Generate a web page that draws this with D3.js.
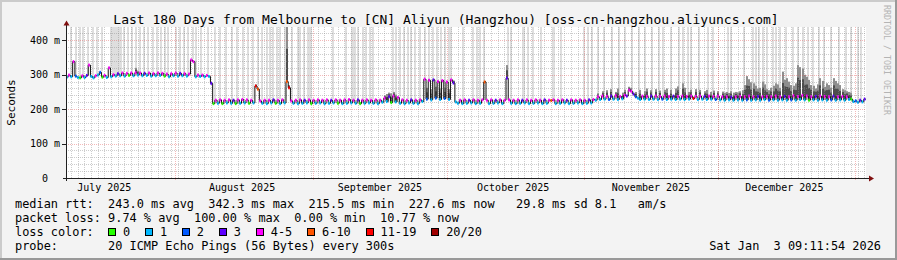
<!DOCTYPE html>
<html>
<head>
<meta charset="utf-8">
<script src="https://cdn.jsdelivr.net/npm/d3@7"></script>
<style>
  html, body { margin: 0; padding: 0; background: #f3f3f3; }
  svg { display: block; }
  text { font-family: "DejaVu Sans Mono", monospace; white-space: pre; }
</style>
</head>
<body>
<script>
// smokeping style graph, last 180 days (Melbourne local time)

var title = "Last 180 Days from Melbourne to [CN] Aliyun (Hangzhou) [oss-cn-hangzhou.aliyuncs.com]";
var startTime = Date.UTC(2025, 6, 7, 9, 11, 54);
var endTime = Date.UTC(2026, 0, 3, 9, 11, 54);

var yTicks = [0, 100, 200, 300, 400];
var yTickLabels = ["0  ", "100 m", "200 m", "300 m", "400 m"];

var monthLines = ["2025-08-01", "2025-09-01", "2025-10-01", "2025-11-01", "2025-12-01", "2026-01-01"];
var monthLabelAt = ["2025-07-16", "2025-08-16", "2025-09-16", "2025-10-16", "2025-11-16", "2025-12-16"];
var monthLabels = ["July 2025", "August 2025", "September 2025", "October 2025", "November 2025", "December 2025"];

// median rtt in ms, two samples per day
var medianRtt = [
  293,299, 294,338, 296,292, 291,297, 292,298, 328,295, 291,297, 299,307, 293,298, 292,320,
  294,300, 296,303, 297,305, 296,304, 298,305, 297,306, 299,305, 297,304, 298,305, 296,303,
  297,305, 298,304, 296,302, 294,303, 297,305, 296,304, 297,303, 296,302, 343,338, 294,299,
  295,299, 294,298, 295,275, 216,226, 217,227, 216,226, 218,227, 217,226, 216,227, 217,228,
  218,227, 217,226, 218,267, 258,224, 217,226, 216,226, 218,227, 217,226, 216,227, 218,280,
  262,224, 217,226, 216,227, 217,226, 218,227, 216,226, 217,227, 218,226, 216,227, 217,226,
  218,227, 217,226, 216,227, 217,228, 218,226, 217,227, 216,226, 217,227, 218,226, 217,227,
  216,226, 220,232, 222,236, 219,238, 221,234, 217,227, 216,226, 218,227, 217,226, 216,227,
  222,287, 229,284, 227,285, 232,280, 228,283, 231,279, 228,285, 276,221, 217,226, 216,227,
  217,226, 218,227, 216,226, 217,227, 279,226, 216,227, 217,226, 218,227, 216,226, 290,227,
  217,226, 216,227, 217,226, 218,227, 216,226, 217,227, 218,226, 216,227, 217,226, 225,227,
  216,226, 217,227, 218,226, 216,227, 217,226, 218,227, 216,226, 217,227, 218,228, 226,236,
  228,238, 229,237, 228,238, 229,239, 228,237, 230,240, 238,255, 252,244, 236,232, 228,238,
  229,237, 228,238, 229,238, 228,237, 229,238, 228,237, 229,238, 228,237, 229,238, 228,237,
  229,238, 231,237, 228,238, 229,237, 228,238, 229,237, 228,238, 227,236, 226,236, 227,235,
  226,236, 227,237, 226,236, 227,238, 226,236, 227,237, 226,236, 228,237, 226,236, 227,238,
  226,236, 227,237, 226,236, 227,239, 226,237, 228,240, 227,238, 226,236, 227,237, 226,238,
  227,237, 226,236, 227,238, 226,236, 227,237, 226,236, 228,229, 222,224, 220,226, 221,229
];

// loss bucket per sample (index into lossLabels)
var lossBucket = [
  1,4, 1,4, 2,1, 0,4, 1,3, 4,1, 1,4, 1,2, 0,4, 1,4,
  1,4, 1,3, 1,4, 1,4, 0,4, 1,4, 1,4, 1,3, 1,4, 1,4,
  1,4, 1,4, 0,4, 1,4, 1,4, 1,3, 1,4, 1,4, 4,4, 1,4,
  1,4, 1,4, 1,3, 0,4, 1,4, 0,4, 1,4, 1,3, 0,4, 1,4,
  1,4, 0,4, 1,6, 5,4, 1,4, 1,4, 1,3, 0,4, 1,4, 1,5,
  6,4, 1,4, 1,4, 1,3, 1,4, 0,4, 1,4, 1,4, 1,4, 1,3,
  1,4, 0,4, 1,4, 1,4, 1,4, 1,3, 0,4, 1,4, 1,4, 1,4,
  1,4, 1,4, 1,3, 0,4, 1,4, 1,4, 1,4, 1,3, 1,4, 1,4,
  1,4, 2,4, 1,3, 2,4, 1,4, 2,4, 1,4, 3,1, 1,4, 1,4,
  1,3, 1,4, 1,4, 1,4, 5,4, 1,4, 1,3, 1,4, 1,4, 3,4,
  1,4, 1,4, 1,3, 1,4, 1,4, 1,4, 1,4, 1,3, 1,4, 5,4,
  1,4, 1,4, 1,3, 1,4, 1,4, 1,4, 1,4, 1,3, 1,4, 1,4,
  1,4, 1,4, 2,3, 1,4, 1,4, 1,4, 3,4, 4,3, 2,1, 1,4,
  1,4, 1,3, 1,4, 1,4, 2,4, 1,4, 1,3, 1,4, 1,4, 1,4,
  1,4, 6,4, 1,4, 1,3, 1,4, 1,4, 2,4, 1,4, 1,4, 1,3,
  1,4, 1,4, 1,4, 2,4, 1,4, 1,3, 1,4, 1,4, 2,4, 1,4,
  1,4, 1,3, 1,4, 2,4, 1,4, 1,4, 1,4, 0,4, 1,3, 1,4,
  1,4, 1,4, 2,3, 1,4, 1,4, 1,4, 1,0, 1,2, 1,3, 1,3
];

var lossLabels = ["0", "1", "2", "3", "4-5", "6-10", "11-19", "20/20"];
var lossColors = ["#26ff00", "#00b8ff", "#0059ff", "#5e00ff", "#ff00ff", "#ff5500", "#ff0000", "#a00000"];

// smoke: [day since start, upper rtt in ms]
var smoke = [
  [15.5,320],[16.0,312],[42.5,272],[43.0,262],[49.5,440],[50.0,270],
  [71.5,240],[72.0,244],[72.5,248],[73.0,246],[73.5,250],[74.0,242],
  [80.5,288],[81.0,262],[81.5,287],[82.0,258],[82.5,286],[83.0,265],[83.5,283],[84.0,260],
  [84.5,284],[85.0,262],[85.5,282],[86.0,258],[86.5,286],[87.0,283],[94.0,282],[99.0,328],
  [119.5,246],[120.5,252],[121.5,255],[122.5,258],[123.5,250],[124,260],[125,248],
  [125.5,256],[126.5,265],[127,262],[128,250],[129,256],[130,252],[130.5,260],
  [131.5,255],[132.5,258],[133.5,254],[134.5,256],[135,260],[136,256],[137,260],
  [137.5,266],[138.5,275],[139,262],[140,250],[140.5,256],[141.5,258],[142.5,256],
  [143.5,252],[144,256],[145,250],[145.5,254],[146.5,252],[147.5,251],
  [148,248],[148.5,250],[149,247],[149.5,252],[150,248],[150.5,250],[151,249],
  [151.5,252],[152,255],[152.5,270],[153,296],[153.5,287],[154,278],[154.5,275],[155,268],
  [155.5,260],[156,262],[156.5,280],[157,272],[157.5,258],[158,255],[158.5,262],[159,268],
  [159.5,275],[160,272],[160.5,262],[161,309],[161.5,285],[162,290],[162.5,280],[163,270],
  [163.5,268],[164,275],[164.5,328],[165,322],[165.5,318],[166,300],[166.5,294],[167,285],
  [167.5,270],[168,268],[168.5,260],[169,272],[169.5,290],[170,282],[170.5,265],[171,275],
  [171.5,270],[172,262],[172.5,290],[173,282],[173.5,275],[174,270],[174.5,258],[175,255],
  [175.5,252],[176,250],[176.5,248]
];

// samples whose slowest ping went off the top of the graph (day since start)
var hazeDays = [
  0.9, 2.0, 3.0, 3.7, 4.7, 5.8, 6.8, 7.8, 9.9, 10.3, 10.6, 11.0, 11.4, 11.8, 12.2, 12.9,
  13.7, 14.6, 15.5, 16.4, 17.4, 18.3, 19.3, 20.3, 21.2, 22.1, 22.8, 24.5, 25.4, 26.3, 27.3,
  28.4, 29.0, 30.2, 31.7, 33.3, 34.5, 35.8, 37.1, 38.3, 39.5, 40.7, 41.8, 42.9, 43.9, 45.0,
  45.7, 46.4, 47.2, 47.9, 49.1, 50.6, 51.9, 52.5, 53.3, 54.2, 54.5, 54.8, 59.8, 62.8, 64.1,
  64.5, 64.9, 65.4, 66.5, 67.3, 68.2, 68.9, 73.3, 74.0, 74.9, 75.8, 76.7, 77.4, 78.3, 79.4,
  80.6, 81.5, 82.4, 83.3, 84.2, 85.1, 85.9, 86.5, 89.0, 91.3, 92.3, 93.0, 93.9, 99.2, 99.9,
  102.5, 102.9, 103.7, 104.9, 106.7, 109.3, 109.6, 111.2, 116.4, 117.3, 118.1, 119.4, 120.9,
  122.6, 124.1, 125.6, 127.1, 128.6, 130.1, 131.6, 133.3, 134.0, 135.9, 137.6, 138.5, 139.7,
  140.4, 142.3, 144.2, 145.3, 148.7, 149.4, 152.4, 154.3, 155.0, 155.8, 156.7, 157.4, 158.8,
  159.5, 160.4, 161.8, 163.3, 164.4, 165.5, 166.7, 167.8, 169.3, 170.4, 171.9, 173.8, 175.3,
  176.4, 177.9, 178.7
];

var statLines = [
  "median rtt:  243.0 ms avg  342.3 ms max  215.5 ms min  227.6 ms now   29.8 ms sd 8.1   am/s",
  "packet loss: 9.74 % avg  100.00 % max  0.00 % min  10.77 % now",
  "loss color:",
  "probe:       20 ICMP Echo Pings (56 Bytes) every 300s"
];
var stampText = "Sat Jan  3 09:11:54 2026";
var creditText = "RRDTOOL / TOBI OETIKER";

var DAY = 86400000, HALF = DAY / 2;
var W = 897, H = 260;
var plotLeft = 66, plotRight = 866, plotTop = 27, plotBottom = 178;

var svg = d3.select("body").append("svg")
    .attr("width", W)
    .attr("height", H);

// background and 3d border
svg.append("rect").attr("width", W).attr("height", H).attr("fill", "#f3f3f3");
svg.append("path").attr("d", "M0,1H" + W + "M1,0V" + H).attr("stroke", "#cbcbcb").attr("stroke-width", 2);
svg.append("path").attr("d", "M0," + (H - 1) + "H" + W + "M" + (W - 1) + ",0V" + H).attr("stroke", "#999").attr("stroke-width", 2);

var x = d3.scaleUtc().domain([startTime, endTime]).range([plotLeft, plotRight]);
var y = d3.scaleLinear().domain([0, 400]).range([plotBottom, 40.3]);
var yMax = y.invert(plotTop);
var parse = d3.utcParse("%Y-%m-%d");

svg.append("rect")
    .attr("x", plotLeft).attr("y", plotTop)
    .attr("width", plotRight - plotLeft).attr("height", plotBottom - plotTop)
    .attr("fill", "#fff");

var g = svg.append("g");

function medianAt(day) {
    var i = Math.max(0, Math.min(medianRtt.length - 1, Math.floor(day * 2)));
    return medianRtt[i];
}

// haze bars: outermost smoke band leaving the graph
g.selectAll("rect.haze")
    .data(hazeDays)
    .enter().append("rect")
    .attr("class", "haze")
    .attr("x", function (d) { return Math.round(x(startTime + d * DAY)); })
    .attr("y", plotTop)
    .attr("width", 2)
    .attr("height", function (d) { return Math.max(0, y(medianAt(d)) - 1 - plotTop); })
    .attr("fill", "#dedede");

// smoke columns
var smokeG = g.append("g");
smoke.forEach(function (s) {
    var t0 = startTime + s[0] * DAY;
    var x0 = Math.round(x(t0));
    var med = medianAt(s[0]);
    var top = Math.min(s[1], yMax);
    smokeG.append("rect")
        .attr("x", x0).attr("width", 2)
        .attr("y", y(top)).attr("height", y(med) - y(top))
        .attr("fill", "#8e8e8e");
    var mid = med + (top - med) * 0.6;
    smokeG.append("rect")
        .attr("x", x0).attr("width", 2)
        .attr("y", y(mid)).attr("height", y(med) - y(mid))
        .attr("fill", "#4d4d4d");
});

// grid
var grid = svg.append("g").attr("fill", "none").attr("stroke-dasharray", "1,1");
var minorY = d3.range(20, yMax, 20).filter(function (v) { return v % 100 !== 0; });
grid.selectAll("line.hy").data(minorY).enter().append("line")
    .attr("x1", plotLeft).attr("x2", plotRight)
    .attr("y1", function (d) { return Math.round(y(d)) + 0.5; })
    .attr("y2", function (d) { return Math.round(y(d)) + 0.5; })
    .attr("stroke", "rgba(144,144,144,0.45)");

var anchor = Date.UTC(2025, 10, 1);
var minorX = [];
for (var t = anchor - Math.floor((anchor - startTime) / (1.5 * DAY)) * 1.5 * DAY; t < endTime; t += 1.5 * DAY) {
    if (t > startTime && t !== anchor) minorX.push(t);
}
grid.selectAll("line.vx").data(minorX).enter().append("line")
    .attr("y1", plotTop).attr("y2", plotBottom)
    .attr("x1", function (d) { return Math.round(x(d)) + 0.5; })
    .attr("x2", function (d) { return Math.round(x(d)) + 0.5; })
    .attr("stroke", "rgba(144,144,144,0.45)");

grid.selectAll("line.my").data(yTicks.slice(1)).enter().append("line")
    .attr("x1", plotLeft).attr("x2", plotRight)
    .attr("y1", function (d) { return Math.round(y(d)) + 0.5; })
    .attr("y2", function (d) { return Math.round(y(d)) + 0.5; })
    .attr("stroke", "rgba(224,80,80,0.4)");

grid.selectAll("line.mx").data(monthLines).enter().append("line")
    .attr("y1", plotTop).attr("y2", plotBottom + 3)
    .attr("x1", function (d) { return Math.round(x(parse(d))) + 0.5; })
    .attr("x2", function (d) { return Math.round(x(parse(d))) + 0.5; })
    .attr("stroke", "rgba(224,80,80,0.4)");

// median line with loss colours
var pts = medianRtt.map(function (v, i) { return [startTime + i * HALF, v]; });
pts.push([endTime, medianRtt[medianRtt.length - 1]]);
svg.append("path")
    .attr("d", d3.line()
        .x(function (d) { return x(d[0]); })
        .y(function (d) { return y(d[1]); })
        .curve(d3.curveStepAfter)(pts))
    .attr("fill", "none")
    .attr("stroke", "#111")
    .attr("stroke-width", 1);

svg.append("g").selectAll("rect")
    .data(medianRtt)
    .enter().append("rect")
    .attr("x", function (d, i) { return x(startTime + i * HALF); })
    .attr("width", function (d, i) { return x(startTime + (i + 1) * HALF) - x(startTime + i * HALF) - 0.6; })
    .attr("y", function (d) { return y(d) - 1.5; })
    .attr("height", 3)
    .attr("fill", function (d, i) { return lossColors[lossBucket[i]]; });

// axes
var axis = svg.append("g");
axis.append("line")
    .attr("x1", plotLeft + 0.5).attr("x2", plotLeft + 0.5)
    .attr("y1", plotBottom + 3).attr("y2", 24)
    .attr("stroke", "#202020");
axis.append("line")
    .attr("x1", plotLeft - 3).attr("x2", 870)
    .attr("y1", plotBottom + 0.5).attr("y2", plotBottom + 0.5)
    .attr("stroke", "#202020");
axis.append("path").attr("d", "M63.5,25.5L66.5,20.5L69.5,25.5Z").attr("fill", "#801010");
axis.append("path").attr("d", "M869,175.5L874,178.5L869,181.5Z").attr("fill", "#801010");

axis.selectAll("line.yt").data(yTicks.slice(1)).enter().append("line")
    .attr("x1", plotLeft - 4).attr("x2", plotLeft)
    .attr("y1", function (d) { return Math.round(y(d)) + 0.5; })
    .attr("y2", function (d) { return Math.round(y(d)) + 0.5; })
    .attr("stroke", "#202020");

axis.selectAll("text.yl").data(yTicks).enter().append("text")
    .attr("x", 60)
    .attr("y", function (d) { return y(d) + 3.5; })
    .attr("text-anchor", "end")
    .attr("font-size", "10px")
    .text(function (d, i) { return yTickLabels[i]; });

axis.selectAll("text.xl").data(monthLabelAt).enter().append("text")
    .attr("x", function (d) { return x(parse(d)); })
    .attr("y", 191)
    .attr("text-anchor", "middle")
    .attr("font-size", "10px")
    .text(function (d, i) { return monthLabels[i]; });

svg.append("text")
    .attr("transform", "translate(15," + ((plotTop + plotBottom) / 2) + ") rotate(-90)")
    .attr("text-anchor", "middle")
    .attr("font-size", "11px")
    .text("Seconds");

svg.append("text")
    .attr("x", 446).attr("y", 24)
    .attr("text-anchor", "middle")
    .attr("font-size", "13px")
    .text(title);

svg.append("text")
    .attr("transform", "translate(884,5) rotate(90)")
    .attr("font-size", "8.3px")
    .attr("fill", "#b4b4b4")
    .text(creditText);

// legend
var cw = 11.9 * 0.602;
svg.selectAll("text.stat").data(statLines).enter().append("text")
    .attr("x", 15)
    .attr("y", function (d, i) { return 208 + i * 14; })
    .attr("font-size", "11.9px")
    .text(function (d) { return d; });

var bx = 15 + 13 * cw;
lossLabels.forEach(function (lab, i) {
    svg.append("rect")
        .attr("x", Math.round(bx) + 0.5).attr("y", 228.5)
        .attr("width", 7).attr("height", 7)
        .attr("fill", lossColors[i]).attr("stroke", "#000");
    var lx = bx + 14.8;
    svg.append("text")
        .attr("x", lx).attr("y", 236)
        .attr("font-size", "11.9px")
        .text(lab);
    bx = lx + lab.length * cw + 15;
});

svg.append("text")
    .attr("x", 881).attr("y", 250)
    .attr("text-anchor", "end")
    .attr("font-size", "11.9px")
    .text(stampText);
</script>
</body>
</html>
